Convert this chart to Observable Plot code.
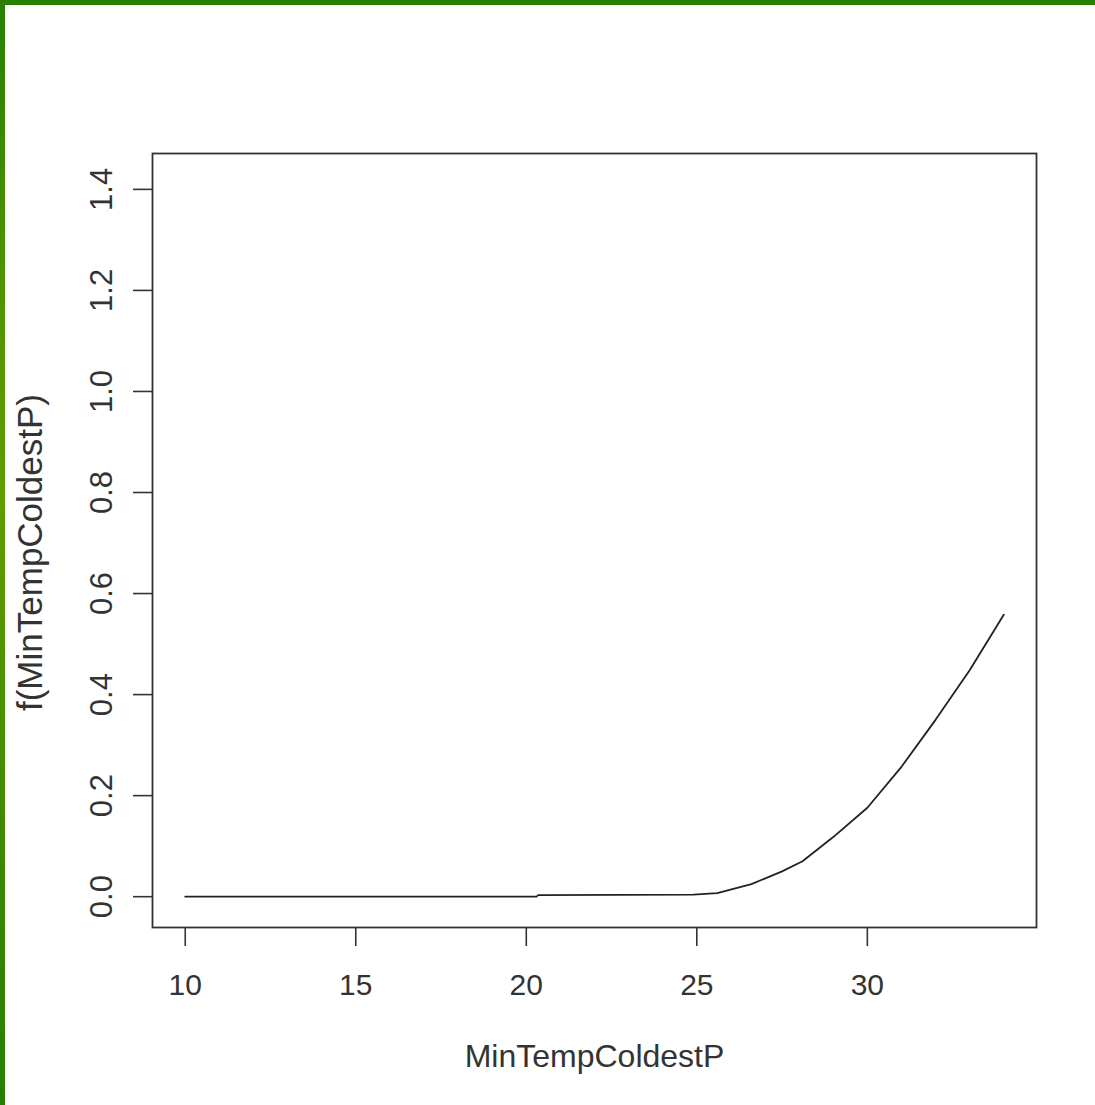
<!DOCTYPE html>
<html>
<head>
<meta charset="utf-8">
<script src="https://cdn.jsdelivr.net/npm/d3@7"></script>
<script src="https://cdn.jsdelivr.net/npm/@observablehq/plot@0.6"></script>
<style>
  html, body { margin: 0; padding: 0; background: #fff; }
  #wrap { position: relative; width: 1095px; height: 1105px; overflow: hidden; }
  #wrap svg { position: absolute; left: 0; top: 0; }
  #btop { position: absolute; left: 0; top: 0; width: 1095px; height: 5px; background: #267f00; }
  #bleft { position: absolute; left: 0; top: 0; width: 5px; height: 1105px;
           background: linear-gradient(#267f00 0%, #4f9400 25%, #5f9e00 45%, #3f8a00 75%, #267f00 100%); }
</style>
</head>
<body>
<div id="wrap"><div id="chart"></div><div id="btop"></div><div id="bleft"></div></div>
<script>
// Smooth term estimate
const xValues = [10, 15, 20, 20.3, 20.35, 24.9, 25.6, 26.6, 27.5, 28.1, 29, 30, 31, 32, 33, 34];
const yValues = [0, 0, 0, 0, 0.003, 0.004, 0.007, 0.025, 0.05, 0.07, 0.118, 0.176, 0.257, 0.35, 0.448, 0.558];
const xTicks = [10, 15, 20, 25, 30];
const yTicks = [0, 0.2, 0.4, 0.6, 0.8, 1.0, 1.2, 1.4];
const xLabel = "MinTempColdestP";
const yLabel = "f(MinTempColdestP)";

const data = xValues.map((x, i) => ({x, y: yValues[i]}));
const ink = "#333";
const font = "Liberation Sans, Arial, sans-serif";

const chart = Plot.plot({
  width: 1095,
  height: 1105,
  marginLeft: 152,
  marginRight: 59,
  marginTop: 153,
  marginBottom: 178,
  style: {fontFamily: font, background: "transparent", color: ink},
  x: {domain: [9.04, 34.96]},
  y: {domain: [-0.061, 1.471]},
  marks: [
    Plot.frame({stroke: ink, strokeWidth: 1.8}),
    Plot.axisX({ticks: xTicks, tickSize: 19, tickPadding: 27, fontSize: 30, tickFormat: d3.format("d"), label: null, stroke: ink, strokeWidth: 1.6}),
    Plot.axisY({ticks: yTicks, tickSize: 19, tickFormat: d3.format(".1f"), label: null, text: null, stroke: ink, strokeWidth: 1.6}),
    Plot.text(yTicks, {y: d => d, text: d => d3.format(".1f")(d), frameAnchor: "left", dx: -50, rotate: -90, fontSize: 31, fill: ink, lineAnchor: "middle", textAnchor: "middle"}),
    Plot.text([xLabel], {text: d => d, frameAnchor: "bottom", dy: 129, fontSize: 32, fill: ink, lineAnchor: "middle", textAnchor: "middle"}),
    Plot.text([yLabel], {text: d => d, frameAnchor: "left", dx: -122, dy: 12, rotate: -90, fontSize: 35, fill: ink, lineAnchor: "middle", textAnchor: "middle"}),
    Plot.line(data, {x: "x", y: "y", stroke: "#222", strokeWidth: 1.8})
  ]
});
document.getElementById("chart").appendChild(chart);
</script>
</body>
</html>
